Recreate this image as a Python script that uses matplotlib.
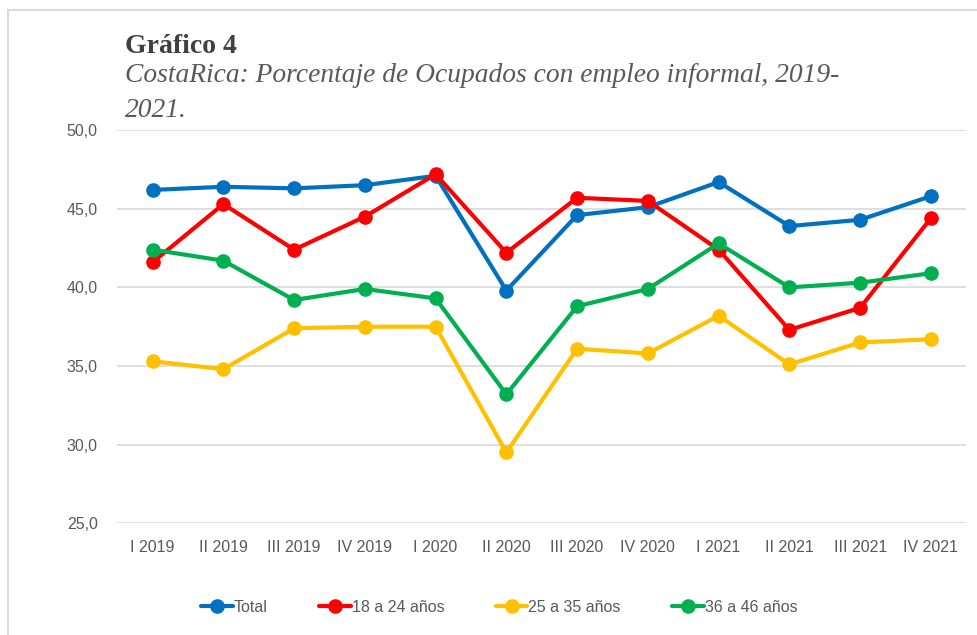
import matplotlib
matplotlib.use("Agg")
import matplotlib.pyplot as plt
from matplotlib.patches import Rectangle
from matplotlib.ticker import FuncFormatter

periods = ["I 2019", "II 2019", "III 2019", "IV 2019",
           "I 2020", "II 2020", "III 2020", "IV 2020",
           "I 2021", "II 2021", "III 2021", "IV 2021"]

total = [46.2, 46.4, 46.3, 46.5, 47.1, 39.8, 44.6, 45.1, 46.7, 43.9, 44.3, 45.8]
age_18_24 = [41.6, 45.3, 42.4, 44.5, 47.2, 42.2, 45.7, 45.5, 42.4, 37.3, 38.7, 44.4]
age_25_35 = [35.3, 34.8, 37.4, 37.5, 37.5, 29.5, 36.1, 35.8, 38.2, 35.1, 36.5, 36.7]
age_36_46 = [42.4, 41.7, 39.2, 39.9, 39.3, 33.2, 38.8, 39.9, 42.8, 40.0, 40.3, 40.9]

series = [
    ("Total", total, "#0070C0"),
    ("18 a 24 años", age_18_24, "#FF0000"),
    ("25 a 35 años", age_25_35, "#FFC000"),
    ("36 a 46 años", age_36_46, "#00B050"),
]

plt.rcParams["font.family"] = ["Liberation Sans", "DejaVu Sans"]

fig = plt.figure(figsize=(9.77, 6.35), dpi=100)
ax = fig.add_axes([0.12, 0.176, 0.869, 0.619])

# chart border (cut off on the right and bottom like the source)
fig.patches.append(Rectangle((8 / 977, -0.05), 1.1, 1 - 10 / 635 + 0.05,
                             transform=fig.transFigure, fill=False,
                             edgecolor="#D9D9D9", linewidth=1.5))

x = range(len(periods))
for name, vals, col in series:
    ax.plot(x, vals, color=col, linewidth=3, marker="o", markersize=9.5,
            label=name, solid_capstyle="round")

ax.set_xlim(-0.5, len(periods) - 0.5)
ax.set_ylim(25, 50)
ax.set_yticks([25, 30, 35, 40, 45, 50])
ax.yaxis.set_major_formatter(FuncFormatter(lambda v, p: f"{v:.1f}".replace(".", ",")))
ax.set_xticks(list(x))
ax.set_xticklabels(periods)
ax.grid(axis="y", color="#D9D9D9", linewidth=1.2)
ax.set_axisbelow(True)
for s in ax.spines.values():
    s.set_visible(False)
ax.tick_params(length=0, labelsize=11.5, colors="#595959")
ax.tick_params(axis="y", pad=14)
ax.tick_params(axis="x", pad=12)

fig.text(125 / 977, 1 - 53 / 635, "Gráfico 4", family="Liberation Serif",
         fontweight="bold", fontsize=20, color="#404040")
fig.text(125 / 977, 1 - 63 / 635,
         "CostaRica: Porcentaje de Ocupados con empleo informal, 2019-\n2021.",
         family="Liberation Serif", style="italic", fontsize=19.8,
         color="#595959", linespacing=1.55, va="top")

fig.legend(loc="center", bbox_to_anchor=(0.511, 1 - 607 / 635), ncol=4,
           frameon=False, fontsize=11.5, labelcolor="#595959",
           handlelength=2.0, handletextpad=0.05, columnspacing=3.2)

fig.savefig("out.png", dpi=100)
